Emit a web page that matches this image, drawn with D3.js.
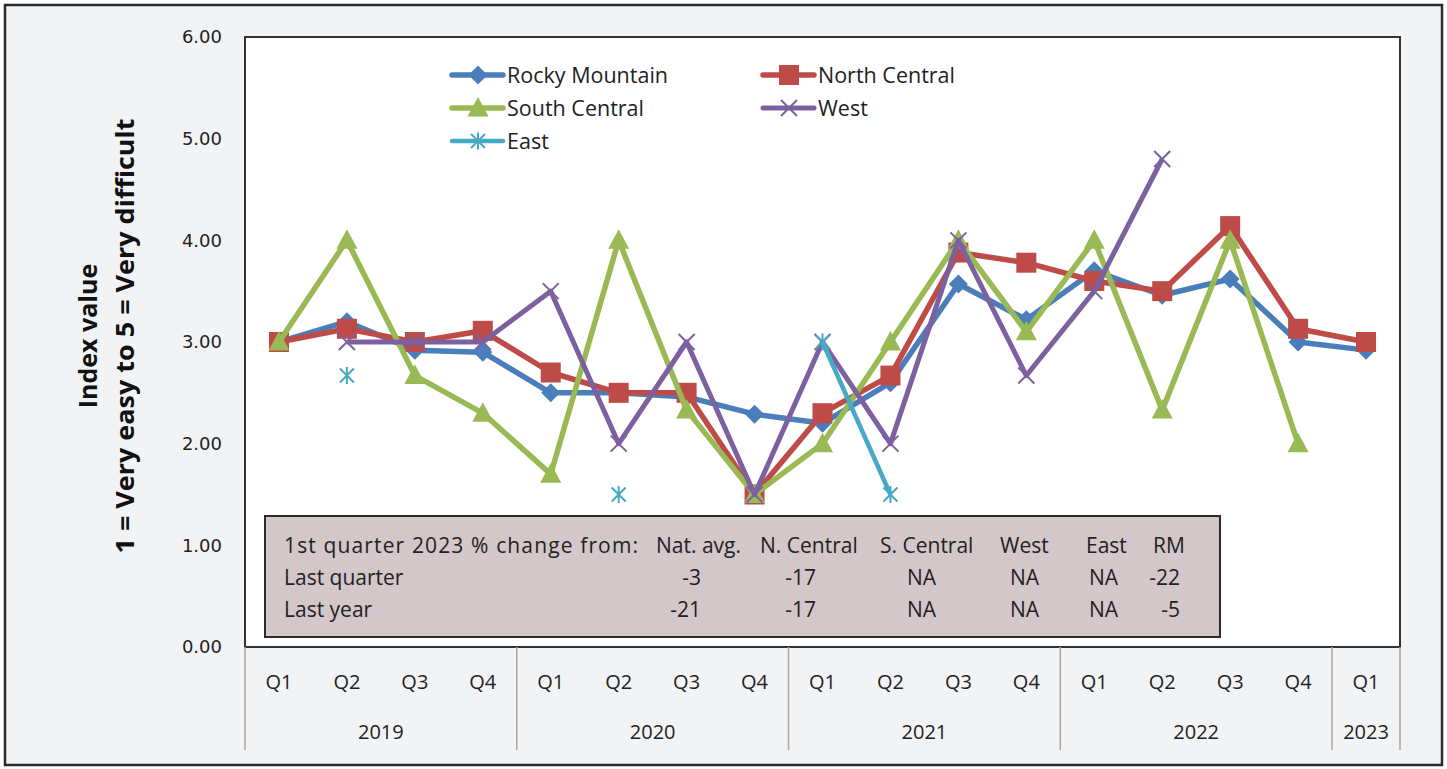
<!DOCTYPE html>
<html>
<head>
<meta charset="utf-8">
<script src="https://cdn.jsdelivr.net/npm/d3@7"></script>
<style>
  html, body { margin: 0; padding: 0; background: #ffffff; }
  svg { display: block; }
</style>
</head>
<body>
<svg id="chart" width="1447" height="769"></svg>
<script>
// ---------------- DATA ----------------
const quarterLabels = ["Q1","Q2","Q3","Q4","Q1","Q2","Q3","Q4","Q1","Q2","Q3","Q4","Q1","Q2","Q3","Q4","Q1"];
const yearLabels = ["2019","2020","2021","2022","2023"];
const quartersPerYear = [4, 4, 4, 4, 1];

const rockyMountain = [3.00, 3.20, 2.92, 2.90, 2.50, 2.50, 2.46, 2.29, 2.20, 2.60, 3.57, 3.22, 3.70, 3.46, 3.62, 3.00, 2.92];
const northCentral  = [3.00, 3.13, 3.00, 3.11, 2.70, 2.50, 2.50, 1.50, 2.30, 2.67, 3.88, 3.78, 3.60, 3.50, 4.14, 3.13, 3.00];
const southCentral  = [3.00, 4.00, 2.67, 2.30, 1.70, 4.00, 2.33, 1.50, 2.00, 3.00, 4.00, 3.10, 4.00, 2.33, 4.00, 2.00, null];
const west          = [null, 3.00, 3.00, 3.00, 3.50, 2.00, 3.00, 1.50, 3.00, 2.00, 4.00, 2.67, 3.50, 4.80, null, null, null];
const east          = [null, 2.67, null, null, null, 1.50, null, null, 3.00, 1.50, null, null, null, null, null, null, null];

const seriesNames = ["Rocky Mountain", "North Central", "South Central", "West", "East"];
const yTicks = [0, 1, 2, 3, 4, 5, 6];

const tableHeader = ["1st quarter 2023 % change from:", "Nat. avg.", "N. Central", "S. Central", "West", "East", "RM"];
const tableLastQuarter = ["Last quarter", "-3", "-17", "NA", "NA", "NA", "-22"];
const tableLastYear = ["Last year", "-21", "-17", "NA", "NA", "NA", "-5"];

// ---------------- STYLE / LAYOUT ----------------
const W = 1447, H = 769;
const plot = { left: 245, right: 1400, top: 37, bottom: 647 };
const FONT = "'Open Sans', 'Noto Sans', sans-serif";
const TICKFONT = "'DejaVu Sans', Verdana, sans-serif";

const seriesStyle = [
  { color: "#4A7EBB", marker: "diamond", width: 5.5 },
  { color: "#BE4B48", marker: "square", width: 5.5 },
  { color: "#98B954", marker: "triangle", width: 5.5 },
  { color: "#7D60A0", marker: "x", width: 5 },
  { color: "#46AAC5", marker: "asterisk", width: 4.5 }
];
const seriesData = [rockyMountain, northCentral, southCentral, west, east];

const svg = d3.select("#chart");

// background + outer frame
svg.append("rect").attr("x", 0).attr("y", 0).attr("width", W).attr("height", H).attr("fill", "#ffffff");
svg.append("rect").attr("x", 5).attr("y", 5).attr("width", 1437).attr("height", 760)
  .attr("fill", "#f2f3f5").attr("stroke", "#2a2a2a").attr("stroke-width", 2.5);

// scales
const categories = quarterLabels.map((q, i) => i);
const x = d3.scaleBand().domain(categories).range([plot.left, plot.right]).padding(0);
const y = d3.scaleLinear().domain([0, 6]).range([plot.bottom, plot.top]);
const cx = i => x(i) + x.bandwidth() / 2;

// plot area
svg.append("rect").attr("x", plot.left).attr("y", plot.top)
  .attr("width", plot.right - plot.left).attr("height", plot.bottom - plot.top)
  .attr("fill", "#ffffff").attr("stroke", "#333333").attr("stroke-width", 2);

// y axis tick labels
const yAxis = d3.axisLeft(y).tickValues(yTicks).tickFormat(d3.format(".2f")).tickSize(0).tickPadding(23);
const yG = svg.append("g").attr("transform", `translate(${plot.left},0)`).call(yAxis);
yG.select(".domain").remove();
yG.selectAll("text").attr("font-family", TICKFONT).attr("font-size", 18).attr("fill", "#222");

// y axis title
svg.append("text").attr("transform", "translate(97,336) rotate(-90)")
  .attr("font-family", FONT).attr("font-weight", "bold").attr("font-size", 25).attr("fill", "#111")
  .attr("text-anchor", "middle").text("Index value");
svg.append("text").attr("transform", "translate(134,336) rotate(-90)")
  .attr("font-family", FONT).attr("font-weight", "bold").attr("font-size", 25).attr("fill", "#111")
  .attr("text-anchor", "middle").attr("textLength", 435).attr("lengthAdjust", "spacingAndGlyphs")
  .text("1 = Very easy to 5 = Very difficult");

// x axis: quarter labels and year groups
const xAxis = d3.axisBottom(x).tickFormat(i => quarterLabels[i]).tickSize(0).tickPadding(28);
const xG = svg.append("g").attr("transform", `translate(0,${plot.bottom})`).call(xAxis);
xG.select(".domain").remove();
xG.selectAll("text").attr("font-family", FONT).attr("font-size", 20).attr("fill", "#222");

let start = 0;
const boundaries = [0];
yearLabels.forEach((yr, k) => {
  const n = quartersPerYear[k];
  const x0 = x(start), x1 = x(start + n - 1) + x.bandwidth();
  svg.append("text").attr("x", (x0 + x1) / 2).attr("y", 739).attr("text-anchor", "middle")
    .attr("font-family", FONT).attr("font-size", 20).attr("fill", "#222").text(yr);
  start += n;
  boundaries.push(start);
});
boundaries.forEach(b => {
  const bx = b < categories.length ? x(b) : x(categories.length - 1) + x.bandwidth();
  svg.append("line").attr("x1", bx).attr("x2", bx).attr("y1", plot.bottom).attr("y2", 750)
    .attr("stroke", "#a6a6a6").attr("stroke-width", 1.5);
});

// markers
function drawMarker(g, type, color, px, py) {
  if (type === "diamond") {
    g.append("path").attr("d", `M${px},${py-9.5}L${px+9.5},${py}L${px},${py+9.5}L${px-9.5},${py}Z`).attr("fill", color);
  } else if (type === "square") {
    g.append("rect").attr("x", px - 10).attr("y", py - 10).attr("width", 20).attr("height", 20).attr("fill", color);
  } else if (type === "triangle") {
    g.append("path").attr("d", `M${px},${py-11}L${px+10.5},${py+8.5}L${px-10.5},${py+8.5}Z`).attr("fill", color);
  } else if (type === "x") {
    g.append("path").attr("d", `M${px-8},${py-8}L${px+8},${py+8}M${px+8},${py-8}L${px-8},${py+8}`)
      .attr("stroke", color).attr("stroke-width", 2).attr("fill", "none");
  } else if (type === "asterisk") {
    g.append("path").attr("d", `M${px-7},${py-7}L${px+7},${py+7}M${px+7},${py-7}L${px-7},${py+7}M${px},${py-8.5}L${px},${py+8.5}`)
      .attr("stroke", color).attr("stroke-width", 2).attr("fill", "none");
  }
}

// series
const line = d3.line().defined(d => d.v != null).x(d => cx(d.i)).y(d => y(d.v));
seriesData.forEach((vals, s) => {
  const st = seriesStyle[s];
  const pts = vals.map((v, i) => ({ i, v }));
  const g = svg.append("g");
  g.append("path").datum(pts).attr("d", line).attr("fill", "none")
    .attr("stroke", st.color).attr("stroke-width", st.width).attr("stroke-linejoin", "round");
  pts.filter(d => d.v != null).forEach(d => drawMarker(g, st.marker, st.color, cx(d.i), y(d.v)));
});

// legend
const legendPos = [
  { lx: 452, ly: 75 }, { lx: 763, ly: 75 },
  { lx: 452, ly: 108 }, { lx: 763, ly: 108 },
  { lx: 452, ly: 141 }
];
seriesNames.forEach((name, s) => {
  const st = seriesStyle[s], p = legendPos[s];
  const g = svg.append("g");
  g.append("line").attr("x1", p.lx).attr("x2", p.lx + 51).attr("y1", p.ly).attr("y2", p.ly)
    .attr("stroke", st.color).attr("stroke-width", st.width).attr("stroke-linecap", "round");
  drawMarker(g, st.marker, st.color, p.lx + 26, p.ly);
  g.append("text").attr("x", p.lx + 55).attr("y", p.ly + 8).attr("font-family", FONT)
    .attr("font-size", 21.5).attr("fill", "#222").text(name);
});

// table
svg.append("rect").attr("x", 265).attr("y", 516).attr("width", 955).attr("height", 121)
  .attr("fill", "#d3c7c9").attr("stroke", "#2a2a2a").attr("stroke-width", 2);
const headerX = [284, 656, 760, 880, 1000, 1086, 1153];
const valueRight = [701, 816, 936, 1039, 1118, 1180];
const rowY = [553, 585, 617];
const tfont = (t) => t.attr("font-family", FONT).attr("font-size", 21).attr("fill", "#222");
tableHeader.forEach((h, k) => {
  const t = tfont(svg.append("text").attr("x", headerX[k]).attr("y", rowY[0]).text(h));
  if (k === 0) t.attr("textLength", 354).attr("lengthAdjust", "spacing");
});
[tableLastQuarter, tableLastYear].forEach((row, r) => {
  row.forEach((v, k) => {
    if (k === 0) {
      tfont(svg.append("text").attr("x", headerX[0]).attr("y", rowY[r + 1]).text(v));
    } else {
      tfont(svg.append("text").attr("x", valueRight[k - 1]).attr("y", rowY[r + 1]).attr("text-anchor", "end").text(v));
    }
  });
});
</script>
</body>
</html>
